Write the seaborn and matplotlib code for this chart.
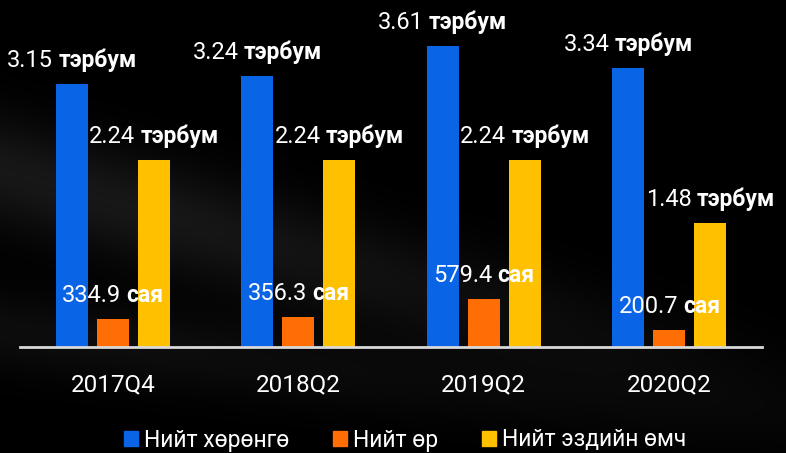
import numpy as np
import pandas as pd
import matplotlib.pyplot as plt
import seaborn as sns

periods = ['2017Q4', '2018Q2', '2019Q2', '2020Q2']
series = ['Нийт хөрөнгө', 'Нийт өр', 'Нийт эздийн өмч']
assets = [3.15, 3.24, 3.61, 3.34]          # тэрбум
debt = [0.3349, 0.3563, 0.5794, 0.2007]    # тэрбум (334.9 сая ...)
equity = [2.24, 2.24, 2.24, 1.48]          # тэрбум
label_num = [['3.15', '3.24', '3.61', '3.34'],
             ['334.9', '356.3', '579.4', '200.7'],
             ['2.24', '2.24', '2.24', '1.48']]
label_unit = ['тэрбум', 'сая', 'тэрбум']
colors = ['#0A64E6', '#FF6D05', '#FFC000']

df = pd.DataFrame({
    'period': periods * 3,
    'series': np.repeat(series, 4),
    'value': assets + debt + equity,
})

sns.set_style('dark')
plt.rcParams['font.family'] = ['Roboto', 'DejaVu Sans']

fig = plt.figure(figsize=(7.86, 4.53), dpi=100, facecolor='black')

# faint photo-like background
bg = fig.add_axes([0, 0, 1, 1], zorder=0)
yy, xx = np.mgrid[0:453, 0:786]
band = np.exp(-((yy - 0.28 * xx - 170) / 55.0) ** 2) * 0.09
band += np.exp(-((yy - 0.12 * xx - 330) / 40.0) ** 2) * 0.05
band *= np.clip(1.2 - xx / 786, 0.2, 1)
bg.imshow(band, cmap='gray', vmin=0, vmax=1, aspect='auto')
bg.axis('off')

ax = fig.add_axes([20 / 786, 106 / 453, 742 / 786, 347 / 453], zorder=1)
ax.patch.set_alpha(0)
sns.barplot(data=df, x='period', y='value', hue='series', palette=colors,
            width=0.663, gap=0.22, ax=ax, legend=False, saturation=1,
            linewidth=0, edgecolor='none')

ax.set_xlim(-0.5, 3.5)
ax.set_ylim(0, 347 / 83.5)
ax.set_xlabel('')
ax.set_ylabel('')
ax.set_yticks([])
ax.grid(False)
for s in ['top', 'left', 'right']:
    ax.spines[s].set_visible(False)
ax.spines['bottom'].set_color('#d9d9d9')
ax.spines['bottom'].set_linewidth(2)
ax.tick_params(axis='x', length=0, pad=19, labelsize=17.5, labelcolor='white')

# value labels: regular number + bold unit, centred over each bar
renderer = fig.canvas.get_renderer()
pairs = []
for i, cont in enumerate(ax.containers):
    for j, bar in enumerate(cont):
        x = bar.get_x() + bar.get_width() / 2
        h = bar.get_height()
        t1 = ax.annotate(label_num[i][j], xy=(x, h), xytext=(0, 17),
                         textcoords='offset pixels', ha='left', va='baseline',
                         color='white', fontsize=17)
        t2 = ax.annotate(label_unit[i], xy=(x, h), xytext=(0, 17),
                         textcoords='offset pixels', ha='left', va='baseline',
                         color='white', fontsize=16.5, fontweight='bold')
        pairs.append((t1, t2))
for t1, t2 in pairs:
    w1 = t1.get_window_extent(renderer).width
    w2 = t2.get_window_extent(renderer).width
    sp = 5
    start = -(w1 + sp + w2) / 2
    t1.xyann = (start, 17)
    t2.xyann = (start + w1 + sp, 17)

handles = [plt.Rectangle((0, 0), 1, 1, color=c) for c in colors]
leg = fig.legend(handles, series, loc='center', bbox_to_anchor=(405 / 786, 1 - 440 / 453),
                 ncol=3, frameon=False, fontsize=16.5, handlelength=0.62, handleheight=0.62,
                 handletextpad=0.25, columnspacing=1.9)
for t in leg.get_texts():
    t.set_color('white')

fig.savefig('out.png', dpi=100, facecolor='black')
